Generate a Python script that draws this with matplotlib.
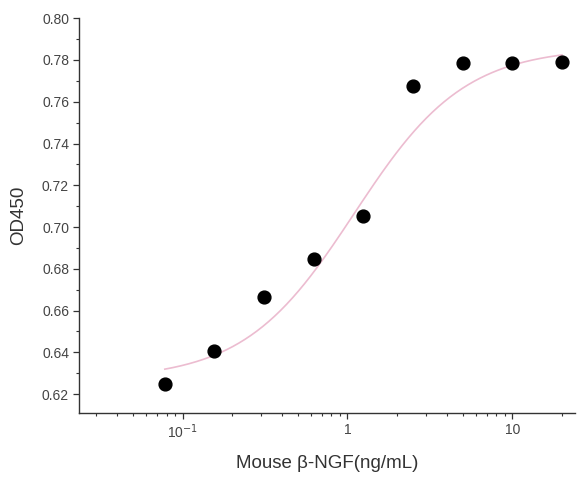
import numpy as np
import matplotlib
matplotlib.use('Agg')
import matplotlib.pyplot as plt
from matplotlib.ticker import FixedLocator, FixedFormatter, LogLocator, NullFormatter, MultipleLocator

plt.rcParams['font.family'] = ['Liberation Sans', 'DejaVu Sans']

# measured points
conc = [0.078125, 0.15625, 0.3125, 0.625, 1.25, 2.5, 5, 10, 20]
od450 = [0.625, 0.6405, 0.6665, 0.6845, 0.7055, 0.7675, 0.7785, 0.7785, 0.779]

# 4PL fit parameters
fit_bottom = 0.627
fit_top = 0.786
fit_ec50 = 1.1
fit_hill = 1.3

xticks = [0.1, 1, 10]
xticklabels = ['10$^{-1}$', '1', '10']
yticks = [0.62, 0.64, 0.66, 0.68, 0.70, 0.72, 0.74, 0.76, 0.78, 0.80]

fig = plt.figure(figsize=(5.88, 4.79), dpi=100)
ax = fig.add_axes([0.134, 0.138, 0.844, 0.824])

xs = np.logspace(np.log10(conc[0]), np.log10(conc[-1]), 200)
ys = fit_top + (fit_bottom - fit_top) / (1 + (xs / fit_ec50) ** fit_hill)
ax.plot(xs, ys, color='#ecbcd0', linewidth=1.2, zorder=2)
ax.scatter(conc, od450, s=85, color='black', zorder=3)

ax.set_xscale('log')
ax.set_xlim(0.0235, 24)
ax.set_ylim(0.611, 0.80)

# only left + bottom axes
ax.spines['right'].set_visible(False)
ax.spines['top'].set_visible(False)
for key in ['left', 'bottom']:
    ax.spines[key].set_linewidth(1.0)
    ax.spines[key].set_color('#333333')

ax.xaxis.set_major_locator(FixedLocator(xticks))
ax.xaxis.set_major_formatter(FixedFormatter(xticklabels))
ax.xaxis.set_minor_locator(LogLocator(base=10, subs=np.arange(2, 10)))
ax.xaxis.set_minor_formatter(NullFormatter())
ax.set_yticks(yticks)
ax.set_yticklabels(['%.2f' % v for v in yticks])
ax.yaxis.set_minor_locator(MultipleLocator(0.01))

ax.tick_params(which='major', direction='out', length=4, width=0.9, color='#333333',
               labelsize=10, labelcolor='#444444', pad=3)
ax.tick_params(which='minor', direction='out', length=2.5, width=0.8, color='#333333')

ax.set_xlabel('Mouse β-NGF(ng/mL)', fontsize=13.5, color='#333333', labelpad=10)
ax.set_ylabel('OD450', fontsize=13.5, color='#333333', labelpad=11)

fig.savefig('out.png', dpi=100)
